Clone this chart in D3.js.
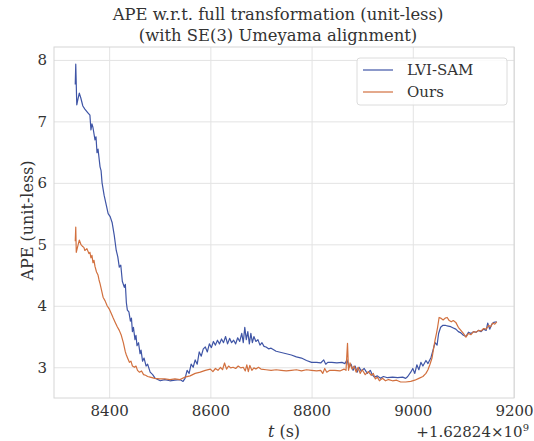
<!DOCTYPE html>
<html lang="en">
<head>
    <meta charset="UTF-8">
    <title>APE w.r.t. full transformation</title>
    <script src="https://d3js.org/d3.v7.min.js"></script>
    <style>
        body { margin: 0; background: #fff; }
        text { font-family: "DejaVu Serif", serif; fill: #333; }
    </style>
</head>
<body>
    <div id="chart"></div>
    <script>
        // t values are offsets from 1.62824e9 s
        const lviT = [8333,8334,8336,8338,8341,8344,8348,8352,8358,8362,8364,8366,8368,8372,8374,8376,8378,8382,8384,8386,8390,8394,8398,8402,8406,8410,8414,8417,8420,8423,8426,8430,8432,8434,8436,8439,8442,8444,8446,8448,8451,8453,8455,8458,8461,8463,8466,8469,8473,8476,8481,8486,8491,8496,8501,8510,8520,8530,8540,8546,8550,8554,8558,8562,8566,8570,8574,8578,8582,8586,8590,8594,8598,8602,8606,8610,8614,8618,8622,8626,8630,8634,8638,8642,8646,8650,8654,8658,8662,8665,8668,8671,8674,8677,8680,8683,8686,8690,8694,8698,8702,8706,8710,8715,8720,8730,8740,8750,8760,8770,8780,8790,8800,8810,8818,8824,8828,8832,8840,8850,8860,8866,8870,8874,8878,8882,8886,8890,8894,8898,8904,8910,8916,8920,8924,8930,8936,8942,8950,8960,8970,8980,8986,8990,8996,9000,9004,9008,9012,9016,9020,9026,9030,9036,9040,9044,9048,9051,9055,9059,9065,9070,9075,9080,9085,9090,9095,9100,9105,9110,9115,9120,9125,9130,9135,9140,9145,9148,9152,9156,9160,9166];
        const lviAPE = [7.60,7.93,7.27,7.35,7.46,7.38,7.25,7.20,7.14,7.10,6.86,6.96,6.90,6.70,6.75,6.49,6.55,6.26,6.20,6.00,5.80,5.65,5.50,5.45,5.35,5.15,4.90,4.80,4.63,4.66,4.40,4.30,4.35,4.05,3.93,3.90,3.75,3.80,3.58,3.65,3.45,3.52,3.35,3.40,3.22,3.28,3.10,3.15,3.02,3.05,2.92,2.88,2.82,2.80,2.78,2.80,2.78,2.79,2.80,2.77,2.82,2.95,2.90,3.05,3.00,3.12,3.05,3.25,3.18,3.30,3.33,3.25,3.38,3.32,3.42,3.36,3.44,3.38,3.46,3.40,3.50,3.38,3.47,3.40,3.44,3.38,3.48,3.42,3.55,3.40,3.65,3.45,3.58,3.38,3.55,3.40,3.50,3.42,3.45,3.36,3.40,3.34,3.33,3.30,3.31,3.26,3.24,3.22,3.20,3.17,3.15,3.11,3.08,3.08,3.07,3.12,3.05,3.08,3.08,3.07,3.08,3.06,3.12,3.00,3.05,2.95,3.02,2.92,3.00,2.94,2.98,2.90,2.95,2.88,2.84,2.86,2.82,2.85,2.83,2.84,2.83,2.84,2.82,2.85,2.92,2.98,2.90,3.04,2.96,3.08,3.02,3.11,3.06,3.16,3.28,3.40,3.36,3.55,3.65,3.68,3.68,3.67,3.66,3.64,3.62,3.58,3.56,3.52,3.50,3.57,3.55,3.58,3.57,3.60,3.58,3.62,3.60,3.72,3.62,3.70,3.73,3.74];

        const oursT = [8333,8334,8335,8338,8341,8344,8347,8350,8352,8356,8360,8362,8364,8366,8368,8370,8372,8375,8378,8380,8382,8385,8388,8392,8396,8400,8404,8408,8412,8416,8420,8424,8428,8432,8434,8437,8440,8443,8446,8450,8453,8456,8460,8464,8468,8472,8476,8481,8490,8500,8510,8520,8530,8540,8550,8560,8570,8580,8590,8600,8605,8610,8615,8620,8624,8628,8632,8636,8640,8645,8650,8655,8660,8665,8669,8672,8675,8678,8682,8686,8690,8695,8700,8710,8720,8730,8740,8750,8760,8770,8780,8790,8800,8810,8818,8822,8826,8830,8836,8846,8856,8864,8868,8871,8873,8876,8880,8884,8888,8892,8896,8900,8906,8912,8918,8922,8926,8930,8934,8940,8946,8952,8960,8968,8976,8986,8996,9004,9012,9020,9026,9030,9034,9038,9041,9044,9047,9049,9052,9055,9060,9064,9068,9072,9076,9080,9085,9090,9095,9100,9105,9110,9115,9120,9125,9130,9135,9140,9145,9150,9154,9158,9162,9166];
        const oursAPE = [5.05,5.28,4.87,4.97,5.07,5.00,4.97,4.95,4.90,4.93,4.85,4.87,4.78,4.82,4.70,4.74,4.64,4.55,4.50,4.42,4.36,4.25,4.14,4.08,4.00,3.95,3.88,3.80,3.73,3.66,3.60,3.52,3.40,3.25,3.20,3.14,3.08,3.10,3.02,3.00,3.02,2.95,2.92,2.94,2.88,2.87,2.85,2.84,2.82,2.81,2.81,2.80,2.81,2.80,2.84,2.86,2.90,2.92,2.95,2.97,2.93,2.98,2.95,3.00,2.96,3.07,2.97,3.02,2.99,3.00,2.98,3.02,2.99,3.00,2.94,3.04,2.93,3.03,2.95,2.99,2.97,3.00,2.97,2.96,2.95,2.96,2.95,2.94,2.95,2.96,2.94,2.96,2.95,2.94,2.95,2.90,2.98,2.92,2.95,2.95,2.94,2.97,2.95,3.39,2.95,3.07,2.97,3.02,2.92,3.00,2.90,2.96,2.88,2.93,2.87,2.90,2.81,2.84,2.78,2.82,2.78,2.80,2.78,2.79,2.76,2.76,2.77,2.79,2.82,2.85,2.90,2.96,3.05,3.15,3.30,3.44,3.56,3.65,3.81,3.80,3.77,3.80,3.81,3.76,3.74,3.76,3.73,3.65,3.60,3.55,3.49,3.55,3.53,3.58,3.57,3.60,3.59,3.63,3.62,3.68,3.66,3.72,3.70,3.74];

        const xTicks = [8400, 8600, 8800, 9000, 9200];
        const yTicks = [3, 4, 5, 6, 7, 8];
        const seriesNames = ["LVI-SAM", "Ours"];
        const seriesColors = ["#3F55A6", "#D2703E"];

        const width = 534, height = 441;
        const margin = { top: 47, right: 20, bottom: 43, left: 54 };
        const innerW = width - margin.left - margin.right;
        const innerH = height - margin.top - margin.bottom;

        const svg = d3.select("#chart").append("svg")
            .attr("width", width)
            .attr("height", height);

        const g = svg.append("g")
            .attr("transform", `translate(${margin.left},${margin.top})`);

        const xScale = d3.scaleLinear().domain([8291, 9200]).range([0, innerW]);
        const yScale = d3.scaleLinear().domain([2.50, 8.21]).range([innerH, 0]);

        // grid
        g.append("g")
            .call(d3.axisBottom(xScale).tickValues(xTicks).tickSize(innerH).tickFormat(""))
            .call(a => a.select(".domain").remove())
            .call(a => a.selectAll("line").attr("stroke", "#e3e3e3").attr("stroke-width", 1));

        g.append("g")
            .call(d3.axisLeft(yScale).tickValues(yTicks).tickSize(-innerW).tickFormat(""))
            .call(a => a.select(".domain").remove())
            .call(a => a.selectAll("line").attr("stroke", "#e3e3e3").attr("stroke-width", 1));

        // frame
        g.append("rect")
            .attr("width", innerW).attr("height", innerH)
            .attr("fill", "none").attr("stroke", "#d6d6d6");

        // tick labels
        const xAxis = g.append("g")
            .attr("transform", `translate(0,${innerH})`)
            .call(d3.axisBottom(xScale).tickValues(xTicks).tickSize(0).tickPadding(7).tickFormat(d3.format("d")))
            .call(a => a.select(".domain").remove());
        xAxis.selectAll("text").style("font-size", "15px").attr("fill", "#333");

        const yAxis = g.append("g")
            .call(d3.axisLeft(yScale).tickValues(yTicks).tickSize(0).tickPadding(7).tickFormat(d3.format("d")))
            .call(a => a.select(".domain").remove());
        yAxis.selectAll("text").style("font-size", "15px").attr("fill", "#333");

        // lines
        const line = d3.line()
            .x(d => xScale(d[0]))
            .y(d => yScale(d[1]));

        const lviData = lviT.map((t, i) => [t, lviAPE[i]]);
        const oursData = oursT.map((t, i) => [t, oursAPE[i]]);

        g.append("path").datum(lviData)
            .attr("fill", "none").attr("stroke", seriesColors[0])
            .attr("stroke-width", 1.2).attr("stroke-linejoin", "round")
            .attr("d", line);

        g.append("path").datum(oursData)
            .attr("fill", "none").attr("stroke", seriesColors[1])
            .attr("stroke-width", 1.2).attr("stroke-linejoin", "round")
            .attr("d", line);

        // titles
        svg.append("text")
            .attr("x", 278).attr("y", 20)
            .attr("text-anchor", "middle")
            .style("font-size", "16.4px")
            .text("APE w.r.t. full transformation (unit-less)");
        svg.append("text")
            .attr("x", 278).attr("y", 41)
            .attr("text-anchor", "middle")
            .style("font-size", "16.4px")
            .text("(with SE(3) Umeyama alignment)");

        // axis labels
        svg.append("text")
            .attr("transform", `translate(27,${margin.top + innerH / 2 - 2}) rotate(-90)`)
            .attr("text-anchor", "middle")
            .attr("dy", "0.35em")
            .style("font-size", "16px")
            .text("APE (unit-less)");

        const xl = svg.append("text")
            .attr("x", 284).attr("y", 437)
            .attr("text-anchor", "middle")
            .style("font-size", "16px");
        xl.append("tspan").style("font-style", "italic").text("t");
        xl.append("tspan").text(" (s)");

        const off = svg.append("text")
            .attr("x", 529).attr("y", 437)
            .attr("text-anchor", "end")
            .style("font-size", "15px");
        off.append("tspan").text("+1.62824×10");
        off.append("tspan").attr("dy", -6).style("font-size", "10px").text("9");

        // legend
        const legend = g.append("g").attr("transform", `translate(${357 - margin.left},${58 - margin.top})`);
        legend.append("rect")
            .attr("width", 150).attr("height", 47)
            .attr("rx", 3)
            .attr("fill", "#fff").attr("fill-opacity", 0.85)
            .attr("stroke", "#dcdcdc");
        seriesNames.forEach((name, i) => {
            legend.append("line")
                .attr("x1", 6).attr("x2", 36)
                .attr("y1", 12 + i * 22).attr("y2", 12 + i * 22)
                .attr("stroke", seriesColors[i]).attr("stroke-width", 1.2);
            legend.append("text")
                .attr("x", 50).attr("y", 17 + i * 22)
                .style("font-size", "15px")
                .text(name);
        });
    </script>
</body>
</html>
